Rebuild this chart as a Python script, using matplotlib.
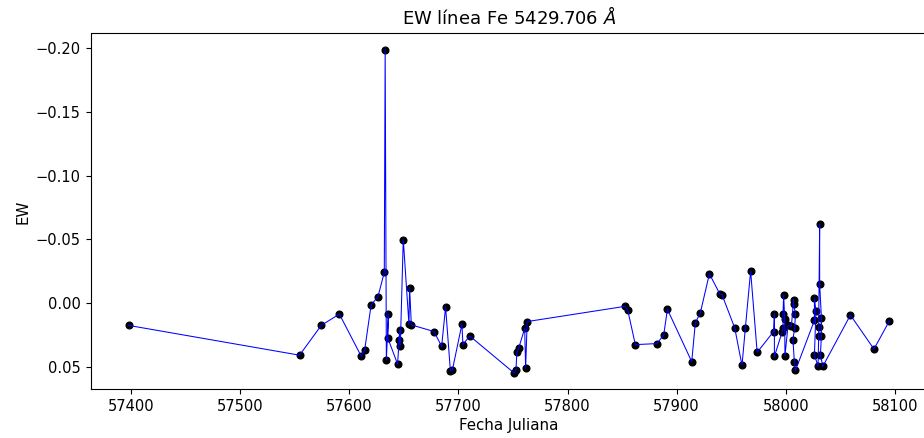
import matplotlib
matplotlib.use("Agg")
import matplotlib.pyplot as plt

# Julian dates of each spectrum and the measured equivalent width of Fe 5429.706
fecha = [
    57397.5, 57554.3, 57574.2, 57590.8, 57610.9, 57614.0, 57619.9, 57626.2,
    57632.0, 57632.8, 57633.9, 57635.7, 57635.3, 57644.2, 57646.1, 57645.8,
    57646.7, 57649.4, 57654.6, 57655.2, 57656.8, 57677.5, 57684.6, 57688.2,
    57692.6, 57694.4, 57703.2, 57704.1, 57710.3, 57751.2, 57752.7, 57753.6,
    57755.2, 57760.7, 57761.6, 57763.0, 57853.0, 57855.3, 57862.2, 57882.0,
    57888.2, 57891.6, 57913.9, 57917.2, 57921.8, 57930.1, 57939.8, 57941.6,
    57953.3, 57960.0, 57963.1, 57967.9, 57973.9, 57989.0, 57989.7, 57989.7,
    57996.7, 57997.6, 57997.6, 57998.2, 57999.1, 57999.4, 58002.2, 58005.3,
    58007.3, 58007.3, 58009.0, 58008.3, 58006.7, 58008.0, 58009.0,
    58026.4, 58026.4, 58027.8, 58026.4, 58029.7, 58030.3, 58030.3, 58031.2,
    58031.2, 58032.8, 58032.8, 58031.9, 58034.1,
    58059.4, 58081.0, 58095.2,
]
ew = [
    0.0176, 0.0410, 0.0176, 0.0087, 0.0419, 0.0370, 0.0016, -0.0050,
    -0.0240, -0.1990, 0.0445, 0.0087, 0.0277, 0.0480, 0.0216, 0.0287,
    0.0335, -0.0498, 0.0166, -0.0121, 0.0172, 0.0224, 0.0340, 0.0032,
    0.0532, 0.0528, 0.0166, 0.0327, 0.0259, 0.0551, 0.0525, 0.0385,
    0.0356, 0.0200, 0.0512, 0.0146, 0.0026, 0.0059, 0.0327, 0.0319,
    0.0251, 0.0050, 0.0461, 0.0156, 0.0077, -0.0229, -0.0069, -0.0066,
    0.0195, 0.0490, 0.0195, -0.0251, 0.0388, 0.0224, 0.0085, 0.0420,
    0.0230, 0.0195, 0.0085, -0.0063, 0.0129, 0.0414, 0.0176, 0.0182,
    -0.0027, 0.0006, 0.0085, 0.0195, 0.0287, 0.0464, 0.0530,
    0.0137, -0.0037, 0.0063, 0.0406, 0.0498, 0.0261, 0.0190, -0.0620,
    -0.0148, 0.0116, 0.0261, 0.0406, 0.0498,
    0.0095, 0.0362, 0.0140,
]

xticks = [57400, 57500, 57600, 57700, 57800, 57900, 58000, 58100]
yticks = [-0.20, -0.15, -0.10, -0.05, 0.00, 0.05]

fig = plt.figure(figsize=(9.24, 4.38), dpi=100)
ax = fig.add_axes([90.5 / 924, 48.7 / 438, 837 / 924, 355.8 / 438])

ax.plot(fecha, ew, "ko", markersize=4.8, zorder=2)
ax.plot(fecha, ew, "b-", linewidth=0.75, zorder=3)

ax.invert_yaxis()
ax.set_xticks(xticks)
ax.set_yticks(yticks)
ax.tick_params(labelsize=10.5)
ax.set_title(r"EW línea Fe 5429.706 $\AA$", fontsize=13, pad=7)
ax.set_xlabel("Fecha Juliana", fontsize=10.8, labelpad=3)
ax.set_ylabel("EW", fontsize=10.8)

fig.savefig("out.png", dpi=100)
